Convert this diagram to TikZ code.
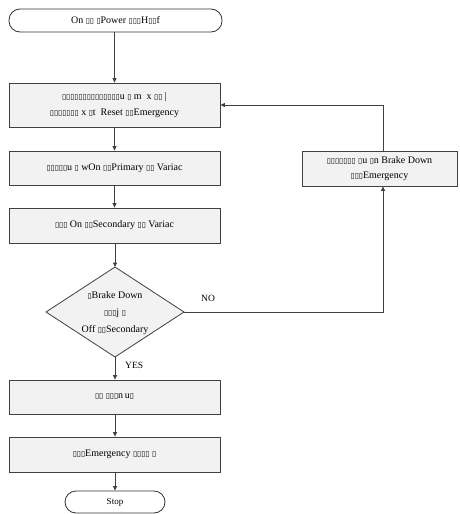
\documentclass[tikz,border=0pt]{standalone}
\usepackage{fontspec}
\setmainfont{Liberation Serif}
\newfontfamily\dvfont{DejaVu Sans}
\usetikzlibrary{arrows.meta,shadows}
\newcommand\tq[1]{{\dvfont\fontsize{7.5}{7.5}\selectfont #1}}
\begin{document}
\begin{tikzpicture}[x=1pt,y=-1pt,
  every node/.style={font=\fontsize{10}{12}\selectfont},
  procbox/.style={draw=black!75, line width=0.8pt, fill=black!5, minimum width=211pt, align=center, inner sep=0pt,
     drop shadow={shadow xshift=0.8pt, shadow yshift=-0.8pt, fill=black!45, opacity=1}},
  termbox/.style={draw=black!80, line width=0.8pt, fill=white, rounded corners=11pt, align=center, inner sep=0pt},
  arr/.style={draw=black!75, line width=0.8pt, -{Triangle[length=4.5pt,width=4pt]}},
  lbl/.style={font=\fontsize{9.5}{11}\selectfont, anchor=west, inner sep=0pt}]
\useasboundingbox (0,0) rectangle (459,514);
\node[termbox, minimum width=213pt, minimum height=23pt] (start) at (115.5,20.5)
  {On \tq{▯▯} \tq{▯}Power \tq{▯▯▯}H\tq{▯▯}f};
\node[procbox, minimum height=44pt] (b2) at (114.5,105)
  {\tq{▯▯▯▯▯▯▯▯▯▯▯▯▯▯}u \tq{▯} m \ x \tq{▯▯} |\\[4pt]
   \tq{▯▯▯▯▯▯▯} x \tq{▯}t \ Reset \tq{▯▯}Emergency};
\node[procbox, minimum height=34pt] (b3) at (114.5,168)
  {\tq{▯▯▯▯▯}u \tq{▯} wOn \tq{▯▯}Primary \tq{▯▯} Variac};
\node[procbox, minimum height=35pt] (b4) at (114.5,225.5)
  {\tq{▯▯▯} On \tq{▯▯}Secondary \tq{▯▯} Variac};
% decision diamond
\coordinate (dtop) at (115,267);
\coordinate (dright) at (184,312);
\coordinate (dbottom) at (115,357);
\coordinate (dleft) at (46,312);
\draw[draw=black!75, line width=0.8pt, fill=black!5] (dtop) -- (dright) -- (dbottom) -- (dleft) -- cycle;
\node[align=center, inner sep=0pt, font=\fontsize{10}{17}\selectfont] (dec) at (115,313)
  {\tq{▯}Brake Down\\ \tq{▯▯▯}j \tq{▯}\\ Off \tq{▯▯}Secondary};
\node[procbox, minimum width=155pt, minimum height=35pt] (rb) at (379.5,168.5)
  {\tq{▯▯▯▯▯▯▯} \tq{▯}u \tq{▯}n Brake Down\\[3pt] \tq{▯▯▯}Emergency};
\node[procbox, minimum height=34pt] (b5) at (114.5,397)
  {\tq{▯▯} \tq{▯▯▯}n\,u\tq{▯}};
\node[procbox, minimum height=35pt] (b6) at (114.5,454.5)
  {\tq{▯▯▯}Emergency \tq{▯▯▯}\tq{▯} \tq{▯}};
\node[termbox, minimum width=100pt, minimum height=22pt, font=\fontsize{9}{11}\selectfont] (stop) at (115,502) {Stop};
% connectors
\coordinate (nx) at (383,0);
\draw[arr] (start.south -| b2.north) -- (b2.north);
\draw[arr] (b2) -- (b3);
\draw[arr] (b3) -- (b4);
\draw[arr] (b4.south -| dtop) -- (dtop);
\draw[arr] (dbottom) -- (b5.north -| dbottom);
\draw[arr] (b5.south -| stop) -- (b6.north -| stop);
\draw[arr] (b6.south -| stop) -- (stop.north);
\draw[arr] (dright) -| (nx |- rb.south);
\draw[arr] (nx |- rb.north) |- (b2.east);
\node[lbl] (no) at (201,298) {NO};
\node[lbl] (yes) at (125,365) {YES};
\end{tikzpicture}
\end{document}
